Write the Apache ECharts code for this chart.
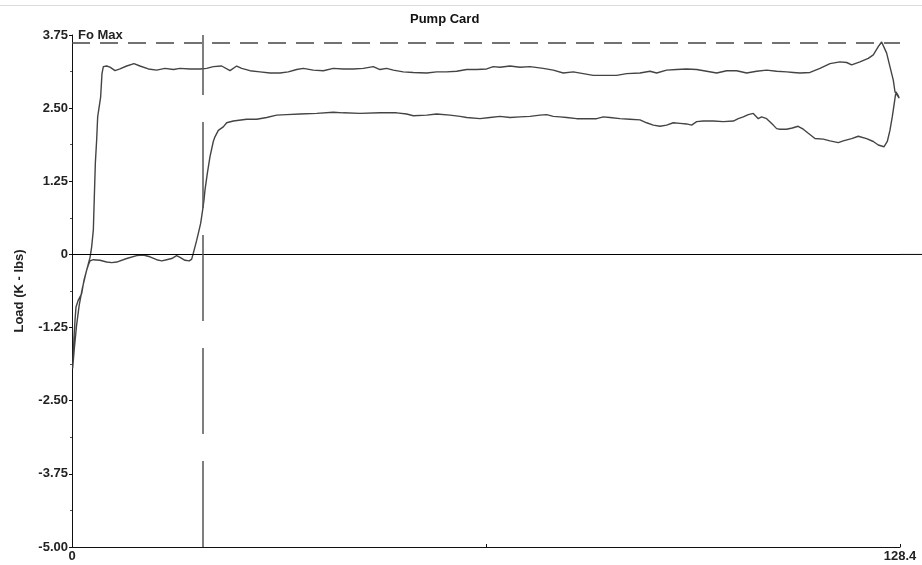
<!DOCTYPE html>
<html>
<head>
<meta charset="utf-8">
<script src="https://cdn.jsdelivr.net/npm/echarts@6/dist/echarts.min.js"></script>
<style>
html,body{margin:0;padding:0;background:#fff;}
#chart{width:922px;height:565px;}
</style>
</head>
<body>
<div id="chart"></div>
<script>
// Upstroke (left to right, top of card)
var upPos = [0.1,0.35,0.7,1.1,1.6,2.2,2.8,3.05,3.31,3.46,3.62,3.82,3.98,4.24,4.44,4.65,4.86,5.37,5.89,6.67,7.44,8.48,9.61,10.54,11.84,13.13,14.42,15.71,16.75,18.3,19.85,20.88,21.91,23.21,24.5,25.54,26.31,27.6,29.15,30.7,32.25,33.54,34.84,35.87,37.42,38.97,40.52,42.07,43.62,45.17,46.72,47.76,48.8,49.82,51.37,52.92,55.0,56.55,58.1,59.65,61.2,62.75,64.3,65.33,66.37,67.92,69.47,71.02,73.08,74.63,76.18,77.73,79.28,80.83,82.91,84.46,86.01,88.08,89.63,90.66,92.21,93.76,95.31,96.86,98.42,99.97,101.52,103.07,104.62,106.17,107.72,109.27,110.82,111.85,112.89,114.44,115.99,117.54,119.09,120.13,120.9,122.19,123.48,124.26,125.03,125.55,125.81,126.33,126.84,127.36,127.62,127.88,128.28,128.4];
var upLoad = [-1.95,-1.62,-1.22,-0.88,-0.58,-0.3,-0.05,0.13,0.42,0.98,1.56,1.95,2.35,2.38,2.69,3.09,3.21,3.22,3.20,3.14,3.17,3.22,3.26,3.22,3.17,3.15,3.18,3.16,3.18,3.17,3.17,3.18,3.21,3.22,3.14,3.22,3.18,3.14,3.12,3.10,3.10,3.12,3.16,3.18,3.15,3.14,3.18,3.17,3.17,3.18,3.21,3.16,3.18,3.15,3.12,3.11,3.10,3.12,3.12,3.13,3.16,3.16,3.17,3.21,3.20,3.22,3.20,3.21,3.18,3.15,3.10,3.12,3.09,3.06,3.06,3.06,3.09,3.10,3.13,3.10,3.15,3.16,3.17,3.16,3.13,3.10,3.14,3.14,3.10,3.13,3.15,3.13,3.12,3.11,3.10,3.11,3.18,3.26,3.29,3.28,3.24,3.29,3.35,3.41,3.55,3.63,3.62,3.44,3.21,2.98,2.78,2.75,2.67,2.64];
// Downstroke (right to left, bottom of card)
var downPos = [128.4,128.1,127.77,127.51,127.2,126.84,126.43,125.91,125.03,124.26,123.22,121.93,120.9,119.6,118.83,117.54,116.5,115.21,114.18,113.4,112.6,111.7,110.8,109.78,109.27,108.75,107.72,106.94,106.42,105.65,104.87,104.1,103.32,102.55,101.0,99.45,97.9,96.86,96.09,95.31,94.28,93.24,92.21,91.18,90.14,89.11,88.08,86.52,84.97,83.42,82.39,81.36,79.81,78.26,76.71,75.67,74.63,73.6,72.57,71.02,69.47,67.92,66.37,64.82,63.27,61.2,60.17,58.61,56.55,55.0,52.92,51.9,50.35,47.76,44.66,42.07,40.52,37.94,35.35,33.29,31.74,30.19,28.64,27.09,25.01,23.99,23.46,22.69,22.17,21.91,21.4,20.98,20.62,20.47,20.26,19.95,19.59,19.33,19.07,18.81,18.56,18.19,17.52,16.75,16.23,15.46,14.68,13.91,13.13,12.09,11.06,10.03,8.48,6.93,6.16,5.37,4.34,3.31,2.79,2.53,2.27,1.86,1.5,0.98,0.62,0.47,0.31,0.2,0.1];
var downLoad = [2.64,2.72,2.78,2.58,2.35,2.12,1.93,1.84,1.87,1.93,1.98,2.02,1.98,1.94,1.91,1.94,1.97,1.98,2.07,2.14,2.19,2.16,2.14,2.14,2.15,2.21,2.32,2.35,2.32,2.41,2.39,2.35,2.32,2.28,2.27,2.28,2.28,2.27,2.21,2.23,2.24,2.25,2.21,2.19,2.21,2.25,2.30,2.31,2.32,2.34,2.35,2.32,2.32,2.32,2.34,2.35,2.36,2.39,2.38,2.36,2.35,2.34,2.36,2.34,2.32,2.34,2.36,2.38,2.40,2.38,2.37,2.40,2.42,2.42,2.41,2.42,2.43,2.41,2.40,2.39,2.38,2.34,2.31,2.31,2.28,2.25,2.18,2.12,2.01,1.93,1.67,1.38,1.10,0.93,0.76,0.53,0.36,0.24,0.13,0.02,-0.08,-0.11,-0.10,-0.05,-0.02,-0.07,-0.09,-0.11,-0.09,-0.04,-0.01,-0.02,-0.07,-0.13,-0.14,-0.13,-0.10,-0.09,-0.11,-0.18,-0.27,-0.44,-0.67,-0.78,-0.90,-1.12,-1.41,-1.75,-1.95];

var foMax = 3.62;
var markerPos = 20.2;
var xMin = 0, xMax = 128.4;
var yMin = -5, yMax = 3.75, yStep = 1.25;
var titleText = 'Pump Card';
var yName = 'Load (K - lbs)';

var card = [];
for (var i = 0; i < upPos.length; i++) card.push([upPos[i], upLoad[i]]);
for (var j = 0; j < downPos.length; j++) card.push([downPos[j], downLoad[j]]);

var FONT = '"Liberation Sans", Arial, sans-serif';
var chart = echarts.init(document.getElementById('chart'), null, {renderer: 'canvas'});
chart.setOption({
  animation: false,
  backgroundColor: '#fff',
  title: {
    text: titleText, left: 405, top: 8,
    textStyle: {fontFamily: FONT, fontSize: 13, fontWeight: 'bold', color: '#111'}
  },
  grid: {left: 72, right: 22, top: 35, bottom: 18, containLabel: false},
  xAxis: {
    type: 'value', min: xMin, max: xMax, interval: (xMax - xMin) / 2,
    axisLine: {show: true, onZero: false, lineStyle: {color: '#111', width: 1}},
    axisTick: {show: true, inside: true, length: 3, lineStyle: {color: '#111'}},
    splitLine: {show: false},
    axisLabel: {
      margin: 3, fontFamily: FONT, fontSize: 13, fontWeight: 'bold', color: '#222',
      showMinLabel: true, showMaxLabel: true,
      formatter: function (v) {
        if (Math.abs(v - xMin) < 1e-6) return '0';
        if (Math.abs(v - xMax) < 1e-6) return String(xMax);
        return '';
      }
    }
  },
  yAxis: {
    type: 'value', min: yMin, max: yMax, interval: yStep,
    name: yName, nameLocation: 'middle', nameGap: 46, nameRotate: 90,
    nameTextStyle: {fontFamily: FONT, fontSize: 13, fontWeight: 'bold', color: '#222'},
    axisLine: {show: true, onZero: false, lineStyle: {color: '#111', width: 1}},
    axisTick: {show: true, inside: false, length: 3, lineStyle: {color: '#111'}},
    minorTick: {show: true, splitNumber: 2, length: 2, lineStyle: {color: '#555'}},
    splitLine: {show: false},
    axisLabel: {
      margin: 4, fontFamily: FONT, fontSize: 13, fontWeight: 'bold', color: '#222',
      formatter: function (v) { return Math.abs(v) < 1e-9 ? '0' : v.toFixed(2); }
    }
  },
  series: [{
    type: 'line',
    data: card,
    showSymbol: false,
    symbol: 'none',
    smooth: false,
    clip: false,
    lineStyle: {color: '#444', width: 1.4},
    markLine: {
      silent: true,
      symbol: ['none', 'none'],
      animation: false,
      data: [
        [{coord: [xMin, 0], lineStyle: {color: '#000', width: 1, type: 'solid'}, label: {show: false}},
         {coord: [xMax, 0]}],
        [{coord: [xMin, foMax], lineStyle: {color: '#444', width: 1.5, type: [18, 10]},
          label: {show: true, formatter: 'Fo Max', position: 'insideStartTop', distance: [6, 1],
                  fontFamily: FONT, fontSize: 13, fontWeight: 'bold', color: '#222'}},
         {coord: [xMax, foMax]}],
        [{coord: [markerPos, yMin], lineStyle: {color: '#555', width: 1.5, type: [86, 27]}, label: {show: false}},
         {coord: [markerPos, yMax]}]
      ]
    }
  }]
});
// Page border line and zero-line extension past the axis end (positions from the chart's scale)
var zEnd = chart.convertToPixel({xAxisIndex: 0, yAxisIndex: 0}, [xMax, 0]);
chart.setOption({
  graphic: [
    {type: 'line', shape: {x1: 0, y1: 5.5, x2: 922, y2: 5.5},
     style: {stroke: '#dcdcdc', lineWidth: 1}, silent: true},
    {type: 'line', shape: {x1: zEnd[0], y1: zEnd[1], x2: 922, y2: zEnd[1]},
     style: {stroke: '#000', lineWidth: 1}, silent: true}
  ]
});
</script>
</body>
</html>
